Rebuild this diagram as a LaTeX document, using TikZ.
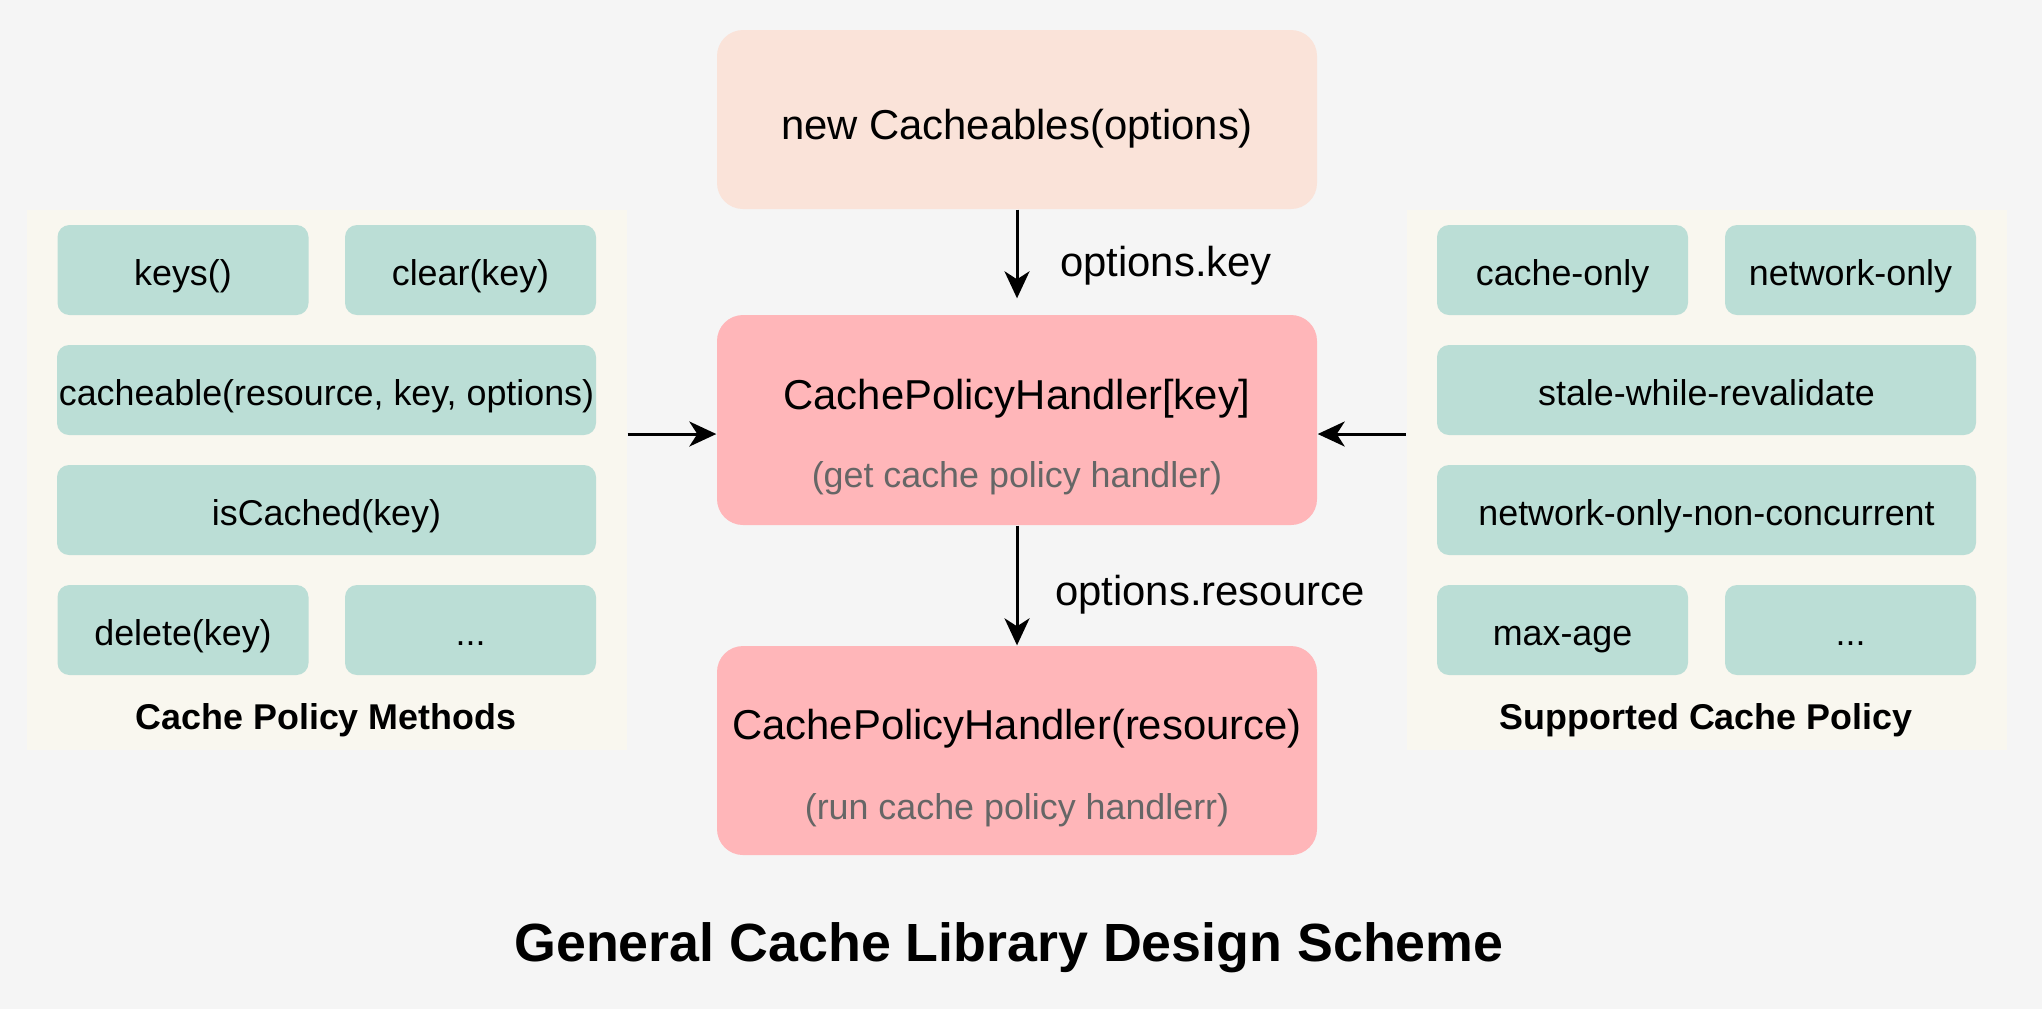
\documentclass[tikz,border=0pt]{standalone}
\usepackage{fontspec}
\setmainfont{Liberation Sans}
\usetikzlibrary{arrows.meta,positioning,calc}
\definecolor{canvas}{HTML}{F5F5F5}
\definecolor{parchment}{HTML}{F9F7EF}
\definecolor{seafoam}{HTML}{BBDED6}
\definecolor{blush}{HTML}{FAE3D9}
\definecolor{salmon}{HTML}{FFB6B9}
\definecolor{slate}{HTML}{666666}

\begin{document}
\begin{tikzpicture}[
    every node/.style={font=\fontsize{11.9}{14}\selectfont,
        text height=0.398cm, text depth=0.106cm},
    small/.style={font=\fontsize{10.2}{12}\selectfont,
        text height=0.341cm, text depth=0.091cm},
    flowbox/.style={rectangle, rounded corners=0.26cm, fill=salmon,
        minimum width=6cm, minimum height=2.1cm, inner sep=0pt},
    panel/.style={rectangle, fill=parchment, minimum width=6cm,
        minimum height=5.4cm, inner sep=0pt},
    chip/.style={rectangle, rounded corners=0.12cm, fill=seafoam,
        minimum height=0.9cm, inner sep=0pt, small, text height=0.40cm},
    halfchip/.style={chip, minimum width=2.51cm},
    fullchip/.style={chip, minimum width=5.39cm},
    note/.style={small, text=slate},
    caption/.style={small, font=\fontsize{10.2}{12}\selectfont\bfseries},
    flow/.style={line width=0.85pt, -{Stealth[length=0.27cm, width=0.25cm, inset=0.08cm]}},
]

% Canvas
\fill[canvas] (0,0) rectangle (20.42,-10.09);
\useasboundingbox (0,0) rectangle (20.42,-10.09);

% Central flow
\node[flowbox, fill=blush, minimum height=1.79cm, text height=0.504cm] (newobj)
    at (10.17,-1.195) {new Cacheables(options)};
\node[flowbox] (key) at (10.17,-4.20) {};
\node (keyname) at (10.17,-3.95) {CachePolicyHandler[key]};
\node[note] (keynote) at (10.17,-4.75) {(get cache policy handler)};
\node[flowbox, minimum height=2.09cm] (res) at (10.17,-7.505) {};
\node (resname) at (10.17,-7.25) {CachePolicyHandler(resource)};
\node[note] (resnote) at (10.17,-8.07) {(run cache policy handlerr)};

% Left panel: methods
\node[panel] (methods) at (3.27,-4.80) {};
\node[halfchip] (keysfn) at (1.83,-2.70) {keys()};
\node[halfchip] (clearfn) at (4.705,-2.70) {clear(key)};
\node[fullchip] (cacheablefn) at (3.265,-3.90) {cacheable(resource, key, options)};
\node[fullchip] (iscachedfn) at (3.265,-5.10) {isCached(key)};
\node[halfchip] (deletefn) at (1.83,-6.30) {delete(key)};
\node[halfchip] (moremethods) at (4.705,-6.30) {...};
\node[caption] (methodstitle) at (3.26,-7.17) {Cache Policy Methods};

% Right panel: policies
\node[panel] (policies) at (17.065,-4.80) {};
\node[halfchip] (cacheonly) at (15.625,-2.70) {cache-only};
\node[halfchip] (netonly) at (18.505,-2.70) {network-only};
\node[fullchip] (swr) at (17.065,-3.90) {stale-while-revalidate};
\node[fullchip] (netnc) at (17.065,-5.10) {network-only-non-concurrent};
\node[halfchip] (maxage) at (15.625,-6.30) {max-age};
\node[halfchip] (morepolicy) at (18.505,-6.30) {...};
\node[caption] (policiestitle) at (17.06,-7.17) {Supported Cache Policy};

% Connectors
\coordinate (inL) at ($(key.west)+(0,-0.14)$);
\coordinate (inR) at ($(key.east)+(0,-0.14)$);
\draw[flow, shorten >=0.16cm] (newobj) -- (key)
    node[midway, right=0.3cm] (keylabel) {options.key};
\draw[flow] (key) -- (res)
    node[midway, right=0.25cm, yshift=-0.05cm] (reslabel) {options.resource};
\draw[flow] (methods.east |- inL) -- (inL);
\draw[flow] (policies.west |- inR) -- (inR);

% Title
\node[font=\fontsize{15.3}{18}\selectfont\bfseries, text height=0.511cm,
    text depth=0.137cm] (title) at (10.09,-9.43)
    {General Cache Library Design Scheme};

\end{tikzpicture}
\end{document}
